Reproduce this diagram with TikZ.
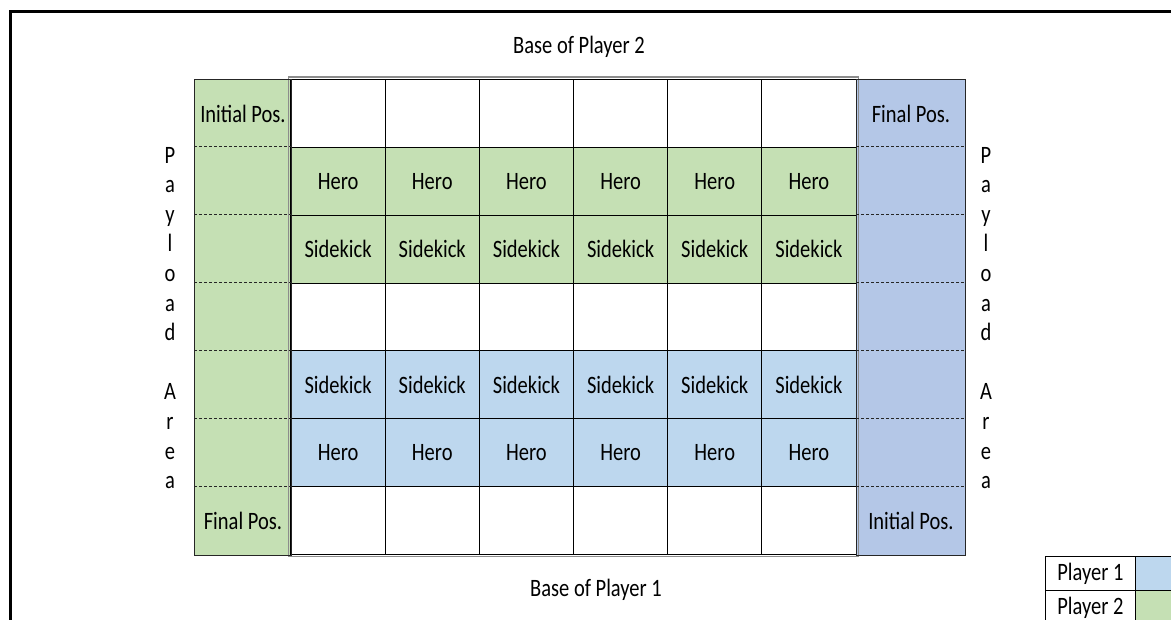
\documentclass[tikz,border=0pt]{standalone}
\usepackage{fontspec}
\setmainfont{Carlito}[FakeStretch=0.82]
\definecolor{pgreen}{HTML}{C5E0B4}
\definecolor{pblue}{HTML}{BDD7EE}
\definecolor{pblueside}{HTML}{B4C7E7}
\tikzset{
  cell/.style={draw=black, line width=0.9pt, minimum width=94.1667pt, minimum height=67.857pt, inner sep=0pt, anchor=center},
  sidecol/.style={draw=black!85, line width=0.9pt, minimum height=475pt, inner sep=0pt, anchor=north west},
  sidetext/.style={inner sep=0pt, anchor=center},
  sep/.style={draw=black!85, line width=1.1pt, dash pattern=on 3pt off 2pt},
  legcell/.style={draw=black, line width=0.8pt, minimum height=34pt, inner sep=0pt, anchor=north west},
  label/.style={inner sep=0pt, anchor=center},
  frame/.style={draw=black, line width=3.5pt}
}
\begin{document}
\begin{tikzpicture}[x=1pt, y=-1pt, font=\fontsize{25}{29.6}\selectfont]
\useasboundingbox (0,0) rectangle (1171,620);
% outer frame
\coordinate (fbl) at (10.5,625);
\coordinate (ftl) at (10.5,11.5);
\coordinate (ftr) at (1175,11.5);
\draw[frame] (fbl) -- (ftl) -- (ftr);

% side columns
\node[sidecol, fill=pgreen, minimum width=97pt] (lcol) at (194,79.5) {};
\node[sidecol, fill=pblueside, minimum width=109pt] (rcol) at (856,79.5) {};

% main grid
\foreach \c in {1,...,6} {
  \node[cell, fill=white] (r1c\c) at ({291+(\c-0.5)*94.1667},{79.5+0.5*67.857}) {};
  \node[cell, fill=pgreen] (r2c\c) at ({291+(\c-0.5)*94.1667},{79.5+1.5*67.857}) {Hero};
  \node[cell, fill=pgreen] (r3c\c) at ({291+(\c-0.5)*94.1667},{79.5+2.5*67.857}) {Sidekick};
  \node[cell, fill=white] (r4c\c) at ({291+(\c-0.5)*94.1667},{79.5+3.5*67.857}) {};
  \node[cell, fill=pblue] (r5c\c) at ({291+(\c-0.5)*94.1667},{79.5+4.5*67.857}) {Sidekick};
  \node[cell, fill=pblue] (r6c\c) at ({291+(\c-0.5)*94.1667},{79.5+5.5*67.857}) {Hero};
  \node[cell, fill=white] (r7c\c) at ({291+(\c-0.5)*94.1667},{79.5+6.5*67.857}) {};
}
% double border of the grid
\draw[draw=black!45, line width=1.1pt] ([shift={(-2pt,2pt)}]r1c1.north west) rectangle ([shift={(2pt,-2pt)}]r7c6.south east);
\draw[line width=0.9pt] (r1c1.north west) rectangle (r7c6.south east);
\draw[draw=black!85, line width=0.9pt] (lcol.north west) rectangle (lcol.south east);
\draw[draw=black!85, line width=0.9pt] (rcol.north west) rectangle (rcol.south east);

% dashed separators in side columns
\foreach \r in {2,...,7} {
  \draw[sep] (lcol.west |- r\r c1.north) -- (r\r c1.north west);
  \draw[sep] (r\r c6.north east) -- (rcol.east |- r\r c6.north);
}

% side texts
\node[sidetext] (lip) at (lcol.center |- r1c1.center) {Initial Pos.};
\node[sidetext] (lfp) at (lcol.center |- r7c1.center) {Final Pos.};
\node[sidetext] (rfp) at (rcol.center |- r1c6.center) {Final Pos.};
\node[sidetext] (rip) at (rcol.center |- r7c6.center) {Initial Pos.};

% base labels
\node[label] (base2) at (579,47) {Base of Player 2};
\node[label] (base1) at (596,590) {Base of Player 1};

% payload area labels
\node[label, align=center] (payl) at (170,318) {P\\a\\y\\l\\o\\a\\d\\~\\A\\r\\e\\a};
\node[label, align=center] (payr) at (986,318) {P\\a\\y\\l\\o\\a\\d\\~\\A\\r\\e\\a};

% legend
\node[legcell, minimum width=90pt] (leg1) at (1045,556) {};
\node[legcell, minimum width=60pt, fill=pblue] (leg1c) at (1135,556) {};
\node[legcell, minimum width=90pt] (leg2) at (1045,590) {};
\node[legcell, minimum width=60pt, fill=pgreen] (leg2c) at (1135,590) {};
\node[label] (leg1t) at (leg1.center) {Player 1};
\node[label] (leg2t) at (leg2.center) {Player 2};
\end{tikzpicture}
\end{document}
